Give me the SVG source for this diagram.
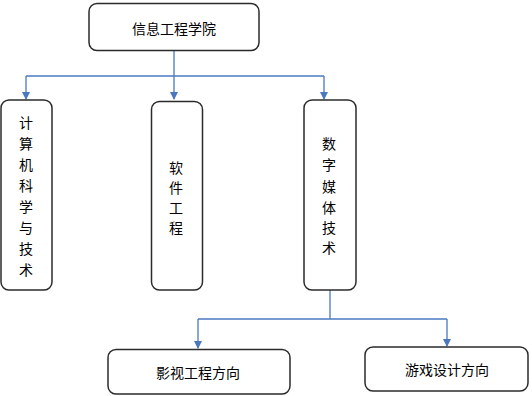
<svg xmlns="http://www.w3.org/2000/svg" width="532" height="396" viewBox="0 0 532 396">
<style>
.box{fill:#fff;stroke:#2b2b2b;stroke-width:1.5}
.t{font-family:"Noto Sans CJK SC","Liberation Sans",sans-serif;font-size:14px;fill:#000;text-anchor:middle;dominant-baseline:central}
.c{fill:none;stroke:#4a78c0;stroke-width:1.3}
</style>
<defs>
<marker id="ah" markerWidth="8" markerHeight="8" refX="7" refY="4" orient="auto" markerUnits="userSpaceOnUse">
<path d="M0,0 L8,4 L0,8 Z" fill="#4a78c0"/>
</marker>
</defs>
<g id="connectors">
<path class="c" d="M174,51 V99" marker-end="url(#ah)"/>
<path class="c" d="M26,76 H324"/>
<path class="c" d="M26,76 V99" marker-end="url(#ah)"/>
<path class="c" d="M324,76 V99" marker-end="url(#ah)"/>
<path class="c" d="M330,290 V319"/>
<path class="c" d="M198,319 H447"/>
<path class="c" d="M198,319 V348" marker-end="url(#ah)"/>
<path class="c" d="M447,319 V346" marker-end="url(#ah)"/>
</g>
<g id="n-root">
<rect class="box" x="89" y="3.5" width="170" height="47" rx="8"/>
<text class="t" x="174" y="28">信息工程学院</text>
</g>
<g id="n-cs">
<rect class="box" x="1" y="100" width="51" height="190" rx="8"/>
<text class="t" x="26" y="122">计</text>
<text class="t" x="26" y="143">算</text>
<text class="t" x="26" y="164">机</text>
<text class="t" x="26" y="185">科</text>
<text class="t" x="26" y="206">学</text>
<text class="t" x="26" y="227">与</text>
<text class="t" x="26" y="248">技</text>
<text class="t" x="26" y="269">术</text>
</g>
<g id="n-se">
<rect class="box" x="151.5" y="101.5" width="51" height="188.5" rx="8"/>
<text class="t" x="176" y="167">软</text>
<text class="t" x="176" y="187">件</text>
<text class="t" x="176" y="207">工</text>
<text class="t" x="176" y="227">程</text>
</g>
<g id="n-dm">
<rect class="box" x="304" y="100" width="52" height="190" rx="8"/>
<text class="t" x="329" y="143">数</text>
<text class="t" x="329" y="164">字</text>
<text class="t" x="329" y="186">媒</text>
<text class="t" x="329" y="207">体</text>
<text class="t" x="329" y="227">技</text>
<text class="t" x="329" y="247">术</text>
</g>
<g id="n-film">
<rect class="box" x="108" y="349.5" width="182" height="44.5" rx="8"/>
<text class="t" x="198" y="372">影视工程方向</text>
</g>
<g id="n-game">
<rect class="box" x="365" y="347" width="163" height="44" rx="8"/>
<text class="t" x="447" y="369">游戏设计方向</text>
</g>
</svg>
